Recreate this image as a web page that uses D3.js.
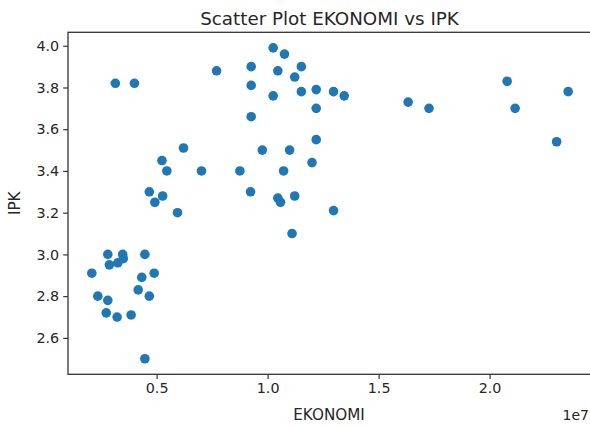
<!DOCTYPE html>
<html>
<head>
<meta charset="utf-8">
<script src="https://cdn.jsdelivr.net/npm/d3@7"></script>
<style>
  body { margin: 0; background: #fff; }
  text { font-family: "DejaVu Sans", sans-serif; fill: #262626; }
</style>
</head>
<body>
<script>
// EKONOMI (rupiah) and IPK pairs
var ekonomi = [
  2800000, 3470000, 3500000, 3250000, 2870000, 4470000, 2080000, 4330000, 4890000, 4170000,
  2350000, 2800000, 4670000, 2730000, 3220000, 3850000, 4470000, 3140000, 4000000, 6210000,
  5240000, 5460000, 4670000, 5270000, 4920000, 5940000, 7700000, 9260000, 9260000, 9260000,
  10250000, 10760000, 10460000, 10250000, 11520000, 11220000, 11520000, 12190000, 12190000, 12970000,
  13450000, 7020000, 8750000, 9760000, 10990000, 12190000, 12000000, 10720000, 9230000, 10460000,
  10580000, 11220000, 12970000, 11100000, 17270000, 20790000, 21150000, 23540000, 23020000, 16330000
];
var ipk = [
  3.00, 3.00, 2.98, 2.96, 2.95, 3.00, 2.91, 2.89, 2.91, 2.83,
  2.80, 2.78, 2.80, 2.72, 2.70, 2.71, 2.50, 3.82, 3.82, 3.51,
  3.45, 3.40, 3.30, 3.28, 3.25, 3.20, 3.88, 3.90, 3.81, 3.66,
  3.99, 3.96, 3.88, 3.76, 3.90, 3.85, 3.78, 3.79, 3.70, 3.78,
  3.76, 3.40, 3.40, 3.50, 3.50, 3.55, 3.44, 3.40, 3.30, 3.27,
  3.25, 3.28, 3.21, 3.10, 3.70, 3.83, 3.70, 3.78, 3.54, 3.73
];
var xTicks = [5000000, 10000000, 15000000, 20000000];
var yTicks = [2.6, 2.8, 3.0, 3.2, 3.4, 3.6, 3.8, 4.0];

var width = 590, height = 426;
var plot = { left: 68, right: 592, top: 32.3, bottom: 374.3 };

// matplotlib-like autoscale: 5% margin on each side
function padded(arr) {
  var ext = d3.extent(arr), pad = (ext[1] - ext[0]) * 0.05;
  return [ext[0] - pad, ext[1] + pad];
}

var x = d3.scaleLinear().domain(padded(ekonomi)).range([plot.left, plot.right]);
var y = d3.scaleLinear().domain(padded(ipk)).range([plot.bottom, plot.top]);

var svg = d3.select("body").append("svg").attr("width", width).attr("height", height);

var points = ekonomi.map(function(d, i) { return { e: d, p: ipk[i] }; });

svg.append("g").selectAll("circle")
  .data(points)
  .enter().append("circle")
    .attr("cx", function(d) { return x(d.e); })
    .attr("cy", function(d) { return y(d.p); })
    .attr("r", 4.8)
    .attr("fill", "#1f77b4");

var xAxis = svg.append("g")
  .attr("transform", "translate(0," + plot.bottom + ")")
  .call(d3.axisBottom(x).tickValues(xTicks).tickSize(4.8).tickPadding(4)
    .tickFormat(function(d) { return (d / 1e7).toFixed(1); }));

var yAxis = svg.append("g")
  .attr("transform", "translate(" + plot.left + ",0)")
  .call(d3.axisLeft(y).tickValues(yTicks).tickSize(4.8).tickPadding(4)
    .tickFormat(d3.format(".1f")));

[xAxis, yAxis].forEach(function(g) {
  g.select(".domain").remove();
  g.selectAll("line").attr("stroke", "#333").attr("stroke-width", 1.2);
  g.selectAll("text").attr("font-size", 14.3).attr("font-family", "DejaVu Sans").attr("fill", "#262626");
});

// spines
svg.append("rect")
  .attr("x", plot.left).attr("y", plot.top)
  .attr("width", plot.right - plot.left).attr("height", plot.bottom - plot.top)
  .attr("fill", "none").attr("stroke", "#333").attr("stroke-width", 1.3);

svg.append("text")
  .attr("x", 329.5).attr("y", 25)
  .attr("text-anchor", "middle").attr("font-size", 18.3)
  .text("Scatter Plot EKONOMI vs IPK");

svg.append("text")
  .attr("x", 329).attr("y", 420)
  .attr("text-anchor", "middle").attr("font-size", 15.2)
  .text("EKONOMI");

svg.append("text")
  .attr("transform", "translate(20," + ((plot.top + plot.bottom) / 2) + ") rotate(-90)")
  .attr("text-anchor", "middle").attr("font-size", 15.2)
  .text("IPK");

svg.append("text")
  .attr("x", 589).attr("y", 420)
  .attr("text-anchor", "end").attr("font-size", 14)
  .text("1e7");
</script>
</body>
</html>
